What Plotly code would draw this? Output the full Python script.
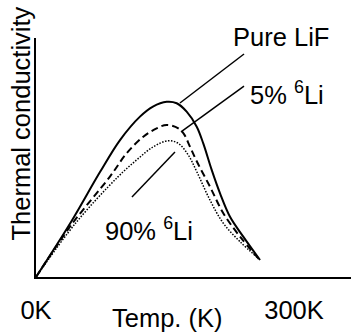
import plotly.graph_objects as go

# Temperature (K) and thermal conductivity (arbitrary units, 0-100)
pure_T = [0, 40.7, 74.4, 97.7, 120.9, 136.0, 152.0, 163.6, 175.2, 186.9, 194.5, 204.3, 214.0, 225.6, 241.0, 260.5]
pure_k = [0, 23.0, 43.9, 57.3, 67.1, 71.3, 73.3, 72.7, 69.2, 62.9, 55.9, 44.8, 35.0, 25.2, 16.9, 7.1]

li5_T = [0, 41.9, 86.0, 105.5, 124.8, 140.3, 152.0, 165.5, 172.1, 179.1, 187.5, 202.3, 217.8, 237.2, 259.0]
li5_k = [0, 22.2, 42.0, 51.8, 58.7, 62.2, 63.6, 62.2, 59.8, 54.5, 48.0, 37.8, 26.7, 16.9, 7.6]

li90_T = [0, 46.2, 95.0, 117.1, 136.4, 153.8, 165.5, 177.1, 186.9, 202.3, 217.8, 237.2, 258.0]
li90_k = [0, 22.6, 41.8, 49.0, 54.5, 57.0, 55.9, 51.0, 44.1, 32.2, 22.5, 14.8, 8.0]

x_ticks = [0, 300]
x_tick_labels = ["0K", "300K"]

FONT = "Liberation Sans, Arial, sans-serif"
FS = 25.5

W, H = 351, 335
L, R, T, B = 36, 0, 38, 58
pw, ph = W - L - R, H - T - B


def px_to_paper(px, py):
    return (px - L) / pw, (H - B - py) / ph


fig = go.Figure()
fig.add_trace(go.Scatter(x=pure_T, y=pure_k, mode="lines", line=dict(color="black", width=2, shape="spline"),
                         cliponaxis=False, name="Pure LiF"))
fig.add_trace(go.Scatter(x=li5_T, y=li5_k, mode="lines", line=dict(color="black", width=2, dash="7px,4px", shape="spline"),
                         cliponaxis=False, name="5% 6Li"))
fig.add_trace(go.Scatter(x=li90_T, y=li90_k, mode="lines", line=dict(color="black", width=1.5, dash="1.5px,1.5px", shape="spline"),
                         cliponaxis=False, name="90% 6Li"))

# pointer lines (data coordinates)
pointers = [
    ((167.4, 72.8), (241.9, 93.3)),
    ((168.6, 60.7), (241.9, 79.9)),
    ((111.6, 33.5), (161.6, 52.3)),
]
for (x0, y0), (x1, y1) in pointers:
    fig.add_shape(type="line", x0=x0, y0=y0, x1=x1, y1=y1, xref="x", yref="y",
                  line=dict(color="black", width=1.5))

# text labels placed by pixel centre
labels = [
    ("Pure LiF", 280.5, 37, 0),
    ("5% <sup>6</sup>Li", 286.5, 93, 0),
    ("90% <sup>6</sup>Li", 148.5, 229, 0),
    ("Temp. (K)", 167, 318, 0),
    ("Thermal conductivity", 21, 123.5, -90),
]
for txt, px, py, ang in labels:
    x, y = px_to_paper(px, py)
    fig.add_annotation(text=txt, x=x, y=y, xref="paper", yref="paper", showarrow=False, textangle=ang,
                       xanchor="center", yanchor="middle", font=dict(family=FONT, size=FS, color="black"))

fig.update_layout(
    width=W, height=H,
    margin=dict(l=L, r=R, t=T, b=B, pad=0),
    plot_bgcolor="white", paper_bgcolor="white",
    showlegend=False,
    font=dict(family=FONT, size=FS, color="black"),
    xaxis=dict(range=[0, 366.3], showgrid=False, zeroline=False, showline=True, linecolor="black", linewidth=2,
               tickvals=x_ticks, ticktext=x_tick_labels, ticks="", ticklabelstandoff=9,
               tickfont=dict(family=FONT, size=FS, color="black"), fixedrange=True),
    yaxis=dict(range=[0, 100], showgrid=False, zeroline=False, showline=True, linecolor="black", linewidth=2,
               showticklabels=False, ticks="", fixedrange=True),
)

fig.write_html("out.html", config={"displayModeBar": False},
               post_script="document.body.style.margin='0';document.body.style.overflow='hidden';")
